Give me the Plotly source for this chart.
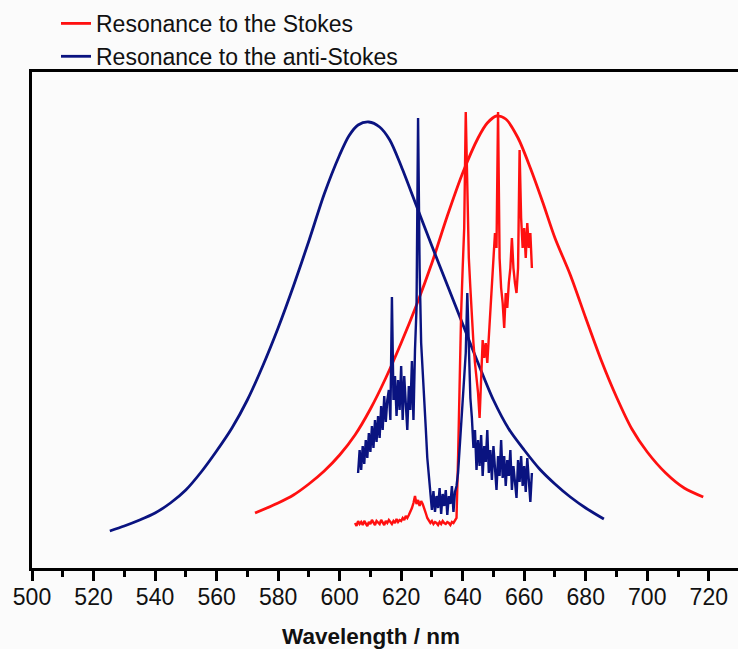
import plotly.graph_objects as go

# ---- smooth resonance curves (wavelength nm, intensity a.u.) ----
stokes_fit_nm = [572.5, 580.0, 585.0, 590.0, 595.0, 600.0, 605.0, 610.0, 615.0, 620.0, 625.0, 630.0,
                 635.0, 640.0, 645.0, 648.0, 651.0, 654.0, 658.0, 662.0, 666.0, 670.0, 675.0, 680.0,
                 685.0, 690.0, 695.0, 700.0, 706.0, 712.0, 718.2]
stokes_fit_val = [55, 65, 73, 84, 97, 113, 133, 159, 190, 225, 263, 305,
                  352, 395, 430, 445, 452, 449, 430, 400, 366, 330, 293, 250,
                  208, 171, 139, 116, 95, 80, 71]

anti_fit_nm = [525.3, 530.0, 535.0, 540.0, 545.0, 550.0, 555.0, 560.0, 565.0, 570.0, 575.0, 580.0,
               585.0, 590.0, 595.0, 600.0, 603.0, 606.0, 609.5, 613.0, 616.3, 620.0, 625.0, 630.0,
               635.0, 640.0, 645.0, 650.0, 655.0, 660.0, 665.0, 670.0, 675.0, 680.0, 685.9]
anti_fit_val = [37, 42, 48, 55, 65, 78, 96, 117, 140, 168, 202, 240,
                282, 327, 374, 413, 432, 443, 446, 441, 428, 402, 362, 322,
                283, 244, 205, 168, 139, 118, 99, 84, 71, 60, 49]

# ---- measured (noisy) spectra ----
anti_meas_nm = [606.0, 606.5, 607.0, 607.5, 608.0, 608.5, 609.0, 609.5, 610.0, 610.5, 611.0, 611.5,
                612.0, 612.5, 613.0, 613.5, 614.0, 614.5, 615.0, 615.5, 616.0, 616.5, 617.0, 617.5,
                618.0, 618.5, 619.0, 619.5, 620.0, 620.5, 621.0, 621.5, 622.0, 622.5, 623.0, 623.5,
                624.0, 624.5, 625.0, 625.5, 626.0, 626.5, 627.0, 627.5, 628.0, 628.5, 629.0, 629.5,
                630.0, 630.5, 631.0, 631.5, 632.0, 632.5, 633.0, 633.5, 634.0, 634.5, 635.0, 635.5,
                636.0, 636.5, 637.0, 637.5, 638.0, 638.5, 639.0, 639.5, 640.0, 640.5, 641.0, 641.5,
                642.0, 642.5, 643.0, 643.5, 644.0, 644.5, 645.0, 645.5, 646.0, 646.5, 647.0, 647.5,
                648.0, 648.5, 649.0, 649.5, 650.0, 650.5, 651.0, 651.5, 652.0, 652.5, 653.0, 653.5,
                654.0, 654.5, 655.0, 655.5, 656.0, 656.5, 657.0, 657.5, 658.0, 658.5, 659.0, 659.5,
                660.0, 660.5, 661.0, 661.5, 662.0, 662.5]
anti_meas_val = [95, 118, 98, 122, 104, 128, 110, 135, 116, 142, 120, 148,
                 126, 152, 130, 162, 138, 172, 146, 168, 178, 148, 271, 168,
                 192, 152, 188, 158, 202, 148, 192, 162, 138, 182, 158, 207,
                 148, 218, 260, 450, 300, 225, 200, 165, 140, 110, 90, 72,
                 58, 77, 56, 72, 60, 80, 54, 74, 62, 78, 53, 72,
                 64, 82, 56, 76, 82, 95, 120, 140, 165, 190, 215, 275,
                 215, 170, 150, 120, 138, 98, 128, 102, 133, 92, 122, 106,
                 138, 95, 118, 88, 122, 100, 78, 112, 92, 128, 90, 112,
                 82, 108, 92, 118, 78, 102, 88, 70, 108, 86, 112, 82,
                 102, 76, 110, 90, 66, 95]

stokes_meas_nm = [605.0, 605.5, 606.0, 606.5, 607.0, 607.5, 608.0, 608.5, 609.0, 609.5, 610.0, 610.5,
                  611.0, 611.5, 612.0, 612.5, 613.0, 613.5, 614.0, 614.5, 615.0, 615.5, 616.0, 616.5,
                  617.0, 617.5, 618.0, 618.5, 619.0, 619.5, 620.0, 620.5, 621.0, 621.5, 622.0, 622.5,
                  623.0, 623.5, 624.0, 624.5, 625.0, 625.5, 626.0, 626.5, 627.0, 627.5, 628.0, 628.5,
                  629.0, 629.5, 630.0, 630.5, 631.0, 631.5, 632.0, 632.5, 633.0, 633.5, 634.0, 634.5,
                  635.0, 635.5, 636.0, 636.5, 637.0, 637.5, 638.0, 638.5, 639.0, 639.5, 640.0, 640.5,
                  641.0, 641.5, 642.0, 642.5, 643.0, 643.5, 644.0, 644.5, 645.0, 645.5, 646.0, 646.5,
                  647.0, 647.5, 648.0, 648.5, 649.0, 649.5, 650.0, 650.5, 651.0, 651.5, 652.0, 652.5,
                  653.0, 653.5, 654.0, 654.5, 655.0, 655.5, 656.0, 656.5, 657.0, 657.5, 658.0, 658.5,
                  659.0, 659.5, 660.0, 660.5, 661.0, 661.5, 662.0, 662.5]
stokes_meas_val = [45, 42, 47, 44, 46, 43, 47, 45, 42, 46, 44, 48,
                   45, 43, 47, 45, 44, 48, 46, 43, 47, 45, 48, 46,
                   44, 47, 45, 49, 46, 48, 47, 50, 48, 52, 50, 53,
                   56, 60, 65, 72, 64, 68, 62, 67, 64, 58, 55, 50,
                   47, 45, 47, 44, 46, 45, 43, 46, 44, 47, 45, 44,
                   46, 45, 43, 46, 45, 47, 50, 110, 190, 255, 300, 340,
                   456, 380, 310, 280, 250, 225, 205, 190, 175, 150, 200, 228,
                   210, 225, 205, 230, 255, 280, 310, 335, 320, 456, 310, 280,
                   265, 240, 275, 260, 285, 300, 330, 300, 285, 275, 300, 418,
                   350, 320, 340, 310, 345, 320, 335, 300]

x_ticks = [500, 520, 540, 560, 580, 600, 620, 640, 660, 680, 700, 720]

RED = "#ff1010"
BLUE = "#0a1380"

fig = go.Figure()
fig.add_trace(go.Scatter(x=stokes_fit_nm, y=stokes_fit_val, mode="lines",
                         line=dict(color=RED, width=2.8, shape="spline", smoothing=0.8),
                         name="Resonance to the Stokes"))
fig.add_trace(go.Scatter(x=anti_fit_nm, y=anti_fit_val, mode="lines",
                         line=dict(color=BLUE, width=2.8, shape="spline", smoothing=0.8),
                         name="Resonance to the anti-Stokes"))
fig.add_trace(go.Scatter(x=stokes_meas_nm, y=stokes_meas_val, mode="lines",
                         line=dict(color=RED, width=2.4), showlegend=False))
fig.add_trace(go.Scatter(x=anti_meas_nm, y=anti_meas_val, mode="lines",
                         line=dict(color=BLUE, width=2.4), showlegend=False))

fig.update_layout(
    width=738, height=649,
    margin=dict(l=32, r=0, t=72, b=81, autoexpand=False),
    paper_bgcolor="#fbfbfb", plot_bgcolor="#fbfbfb",
    font=dict(family="Liberation Sans, Arial, sans-serif", color="#111111", size=23),
    showlegend=True,
    legend=dict(x=56 / 738, y=0.997, xref="container", yref="container",
                xanchor="left", yanchor="top",
                bgcolor="rgba(0,0,0,0)", font=dict(size=23), itemwidth=30),
    annotations=[dict(text="<b>Wavelength / nm</b>", xref="paper", yref="paper",
                      x=0.48, y=-0.139, xanchor="center", yanchor="middle",
                      showarrow=False, font=dict(size=22.5))],
)
fig.update_xaxes(range=[500, 729.5], tickmode="array", tickvals=x_ticks,
                 ticktext=[str(t) for t in x_ticks],
                 showline=True, linecolor="black", linewidth=3, mirror=True,
                 ticks="outside", ticklen=10, tickwidth=2.5, tickcolor="black",
                 ticklabelstandoff=-4,
                 minor=dict(ticks="outside", ticklen=6, tickwidth=2.5, dtick=10, tick0=510,
                            tickcolor="black", showgrid=False),
                 showgrid=False, zeroline=False, tickfont=dict(size=23))
fig.update_yaxes(range=[0, 496], showline=True, linecolor="black", linewidth=3, mirror=False,
                 showticklabels=False, ticks="", showgrid=False, zeroline=False)

fig.write_html("out.html")
